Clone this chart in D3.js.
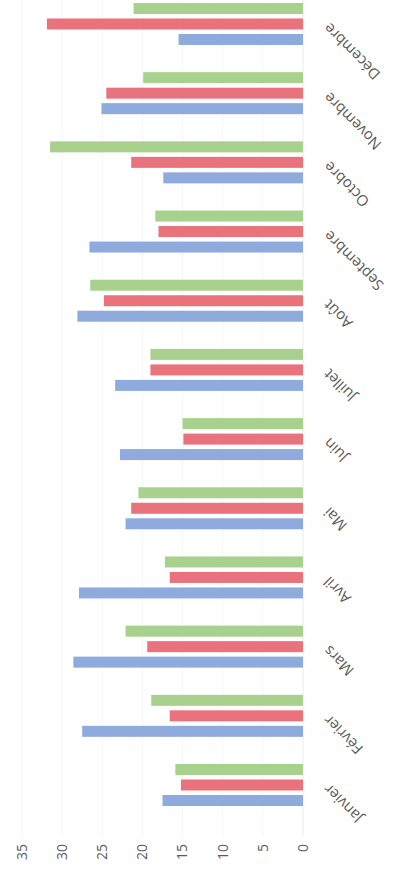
<!DOCTYPE html>
<html>
<head>
<meta charset="utf-8">
<script src="https://cdn.jsdelivr.net/npm/d3@7"></script>
<style>
  body { margin: 0; background: #fff; }
  svg { display: block; }
  text { font-family: "Open Sans", sans-serif; fill: #5a5a5a; }
</style>
</head>
<body>
<div id="chart"></div>
<script>
// data
var months = ["Janvier", "Février", "Mars", "Avril", "Mai", "Juin", "Juillet", "Août", "Septembre", "Octobre", "Novembre", "Décembre"];
var seriesNames = ["s1", "s2", "s3"];
var blueVals  = [17.5, 27.5, 28.6, 27.9, 22.1, 22.8, 23.4, 28.1, 26.6, 17.4, 25.1, 15.5];
var redVals   = [15.2, 16.6, 19.4, 16.6, 21.4, 14.9, 19.0, 24.8, 18.0, 21.4, 24.5, 31.9];
var greenVals = [15.9, 18.9, 22.1, 17.2, 20.5, 15.0, 19.0, 26.5, 18.4, 31.5, 19.9, 21.1];
var yTicks = [0, 5, 10, 15, 20, 25, 30, 35];
var colors = ["#8faadc", "#e9737c", "#a9d18e"];

var pageW = 409, pageH = 876;
// chart is drawn as a normal column chart, then turned a quarter turn
var W = pageH, H = pageW;

var svg = d3.select("#chart").append("svg")
    .attr("width", pageW)
    .attr("height", pageH);

var g = svg.append("g")
    .attr("transform", "translate(0," + pageH + ") rotate(-90)");

var x0 = d3.scaleBand().domain(months).range([56.4, 886.6]);
var x1 = d3.scaleBand().domain(seriesNames).range([-21, 21]).paddingInner(4.5 / 15.5);
var y = d3.scaleLinear().domain([0, 35]).range([303, 22]);

// faint gridlines
g.selectAll(".grid").data(yTicks).enter().append("line")
    .attr("class", "grid")
    .attr("x1", 40)
    .attr("x2", W)
    .attr("y1", function(d){ return y(d); })
    .attr("y2", function(d){ return y(d); })
    .attr("stroke", function(d){ return d === 0 ? "#ececec" : "#f6f6f6"; })
    .attr("stroke-width", 1);

// y tick labels
g.selectAll(".ylab").data(yTicks).enter().append("text")
    .attr("class", "ylab")
    .attr("x", 32)
    .attr("y", function(d){ return y(d); })
    .attr("dy", "0.35em")
    .attr("text-anchor", "end")
    .style("font-size", "14px")
    .text(function(d){ return d; });

var rows = months.map(function(m, i){
  return { month: m, vals: [blueVals[i], redVals[i], greenVals[i]] };
});

var groups = g.selectAll(".grp").data(rows).enter().append("g")
    .attr("class", "grp")
    .attr("transform", function(d){ return "translate(" + (x0(d.month) + x0.bandwidth() / 2) + ",0)"; });

groups.selectAll("rect")
    .data(function(d){ return d.vals.map(function(v, k){ return { key: seriesNames[k], v: v, c: colors[k] }; }); })
    .enter().append("rect")
    .attr("x", function(d){ return x1(d.key); })
    .attr("width", x1.bandwidth())
    .attr("y", function(d){ return y(d.v); })
    .attr("height", function(d){ return y(0) - y(d.v); })
    .attr("fill", function(d){ return d.c; });

// month labels, slanted
g.selectAll(".xlab").data(months).enter().append("text")
    .attr("class", "xlab")
    .attr("text-anchor", "end")
    .style("font-size", "15px")
    .attr("transform", function(d){
      var cx = x0(d) + x0.bandwidth() / 2 + 2;
      return "translate(" + cx + "," + 330 + ") rotate(-45)";
    })
    .text(function(d){ return d; });
</script>
</body>
</html>
